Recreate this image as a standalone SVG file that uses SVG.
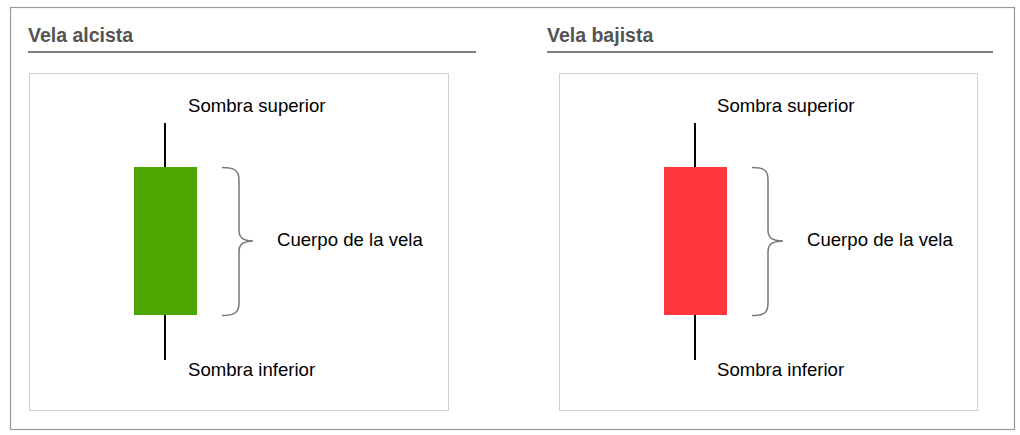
<svg xmlns="http://www.w3.org/2000/svg" width="1020" height="435" viewBox="0 0 1020 435">
<style>
.title{font-family:"Liberation Sans",Arial,sans-serif;font-size:19.5px;font-weight:bold;fill:#545454}
.lbl{font-family:"Liberation Sans",Arial,sans-serif;font-size:18.6px;fill:#000}
.rule{stroke:#555;stroke-width:1.3}
.panel{fill:#fff;stroke:#d0d0d0;stroke-width:1}
.wick{stroke:#000;stroke-width:2}
.brace{fill:none;stroke:#777;stroke-width:1.5}
</style>
<rect x="10.5" y="7.5" width="1004" height="422" fill="#fff" stroke="#999" stroke-width="1.2"/>
<g id="bullish">
<text class="title" x="28" y="42">Vela alcista</text>
<line class="rule" x1="28" y1="52" x2="476" y2="52"/>
<rect class="panel" x="29.5" y="73.5" width="419" height="337"/>
<line class="wick" x1="165" y1="123" x2="165" y2="360"/>
<rect x="134" y="167" width="63" height="148" fill="#4da600"/>
<path class="brace" d="M222,167.5 C234,167.5 239,170 239,180 L239,230 C239,238 243,240.5 253,241 C243,241.5 239,244 239,252 L239,303 C239,313 234,315.5 222,315.5"/>
<text class="lbl" x="188" y="112">Sombra superior</text>
<text class="lbl" x="277" y="246">Cuerpo de la vela</text>
<text class="lbl" x="188" y="376">Sombra inferior</text>
</g>
<g id="bearish">
<text class="title" x="547" y="42">Vela bajista</text>
<line class="rule" x1="547" y1="52" x2="993" y2="52"/>
<rect class="panel" x="559.5" y="73.5" width="418" height="337"/>
<line class="wick" x1="695" y1="123" x2="695" y2="360"/>
<rect x="664" y="167" width="63" height="148" fill="#ff363c"/>
<path class="brace" d="M752,167.5 C764,167.5 768,170 768,180 L768,230 C768,238 772,240.5 783,241 C772,241.5 768,244 768,252 L768,303 C768,313 764,315.5 752,315.5"/>
<text class="lbl" x="717" y="112">Sombra superior</text>
<text class="lbl" x="807" y="246">Cuerpo de la vela</text>
<text class="lbl" x="717" y="376">Sombra inferior</text>
</g>
</svg>
